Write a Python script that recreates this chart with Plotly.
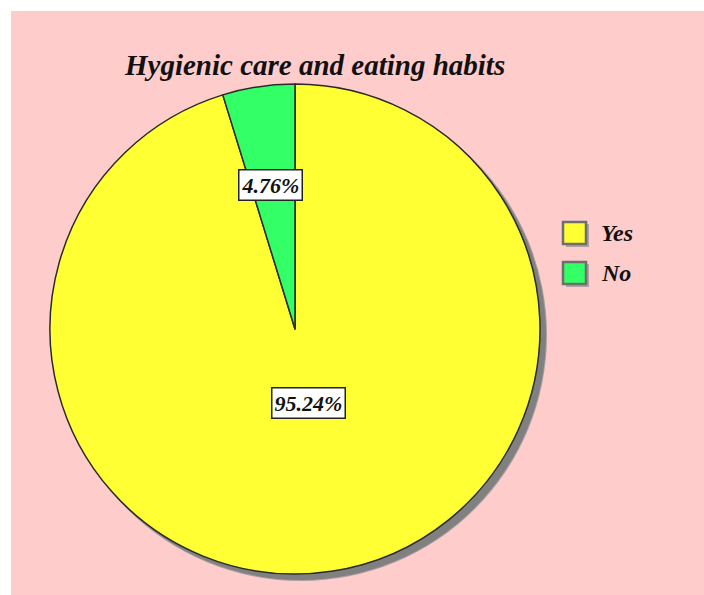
import math
import plotly.graph_objects as go

# data
labels = ["Yes", "No"]
values = [95.24, 4.76]
colors = ["#FFFF33", "#33FF66"]
title = "Hygienic care and eating habits"

W, H = 704, 595
SERIF = "Liberation Serif, Times New Roman, serif"

# pie geometry in pixels
cx, cy, rad = 295, 329, 245
shadow_dx, shadow_dy = 6, 6


def px(x):
    return x / W


def py(y):
    return 1 - y / H


fig = go.Figure()

fig.add_trace(go.Pie(
    labels=labels,
    values=values,
    marker=dict(colors=colors, line=dict(color="#2a2a2a", width=1.5)),
    sort=False,
    direction="clockwise",
    rotation=0,
    textinfo="none",
    hoverinfo="label+percent",
    showlegend=False,
    domain=dict(x=[px(cx - rad), px(cx + rad)], y=[py(cy + rad), py(cy - rad)]),
))

shapes = [
    # pink panel
    dict(type="rect", xref="paper", yref="paper", x0=px(11), x1=1, y0=0, y1=py(11),
         fillcolor="#FFCCCC", line=dict(width=0), layer="below"),
    # soft pie shadow
    dict(type="circle", xref="paper", yref="paper",
         x0=px(cx - rad + shadow_dx - 1), x1=px(cx + rad + shadow_dx + 1),
         y0=py(cy + rad + shadow_dy + 1), y1=py(cy - rad + shadow_dy - 1),
         fillcolor="#A8A0A0", line=dict(width=0), layer="below"),
    dict(type="circle", xref="paper", yref="paper",
         x0=px(cx - rad + shadow_dx), x1=px(cx + rad + shadow_dx),
         y0=py(cy + rad + shadow_dy), y1=py(cy - rad + shadow_dy),
         fillcolor="#808080", line=dict(width=0), layer="below"),
]

annotations = [
    dict(text="<b><i>" + title + "</i></b>", x=px(314), y=py(47), xref="paper", yref="paper",
         showarrow=False, font=dict(family=SERIF, size=29, color="#111111")),
]

# value labels, placed at the middle angle of each slice
label_r = [0.37, 0.66]
total = sum(values)
start = 0.0
for v, r in zip(values, label_r):
    mid = math.radians((start + v / 2) / total * 360)
    start += v
    lx = cx + r * rad * math.sin(mid)
    ly = cy - r * rad * math.cos(mid)
    annotations.append(dict(
        text="<b><i>%.2f%%</i></b>" % (v / total * 100),
        x=px(lx), y=py(ly), xref="paper", yref="paper", showarrow=False,
        font=dict(family=SERIF, size=22, color="#111111"),
        bgcolor="white", bordercolor="#222222", borderwidth=1.5, borderpad=2,
    ))

# legend
for i, (lab, col) in enumerate(zip(labels, colors)):
    yc = 233 + i * 40
    shapes.append(dict(type="rect", xref="paper", yref="paper",
                       x0=px(566), x1=px(589), y0=py(yc + 14), y1=py(yc - 9),
                       fillcolor="#B0A0A0", line=dict(width=0)))
    shapes.append(dict(type="rect", xref="paper", yref="paper",
                       x0=px(563), x1=px(586), y0=py(yc + 11), y1=py(yc - 11),
                       fillcolor=col, line=dict(color="#6E6E6E", width=2.5)))
    annotations.append(dict(
        text="<b><i>" + lab + "</i></b>", x=px(599), y=py(yc), xref="paper", yref="paper",
        xanchor="left", showarrow=False, font=dict(family=SERIF, size=24, color="#111111"),
    ))

fig.update_layout(
    width=W, height=H,
    margin=dict(l=0, r=0, t=0, b=0),
    paper_bgcolor="white",
    shapes=shapes,
    annotations=annotations,
)

# drop the default page margin and scrollbars so the figure fills the window
page_js = (
    "document.body.style.margin = '0';"
    "document.body.style.overflow = 'hidden';"
    "document.documentElement.style.overflow = 'hidden';"
)
fig.write_html("out.html", post_script=page_js, config={"displayModeBar": False})
